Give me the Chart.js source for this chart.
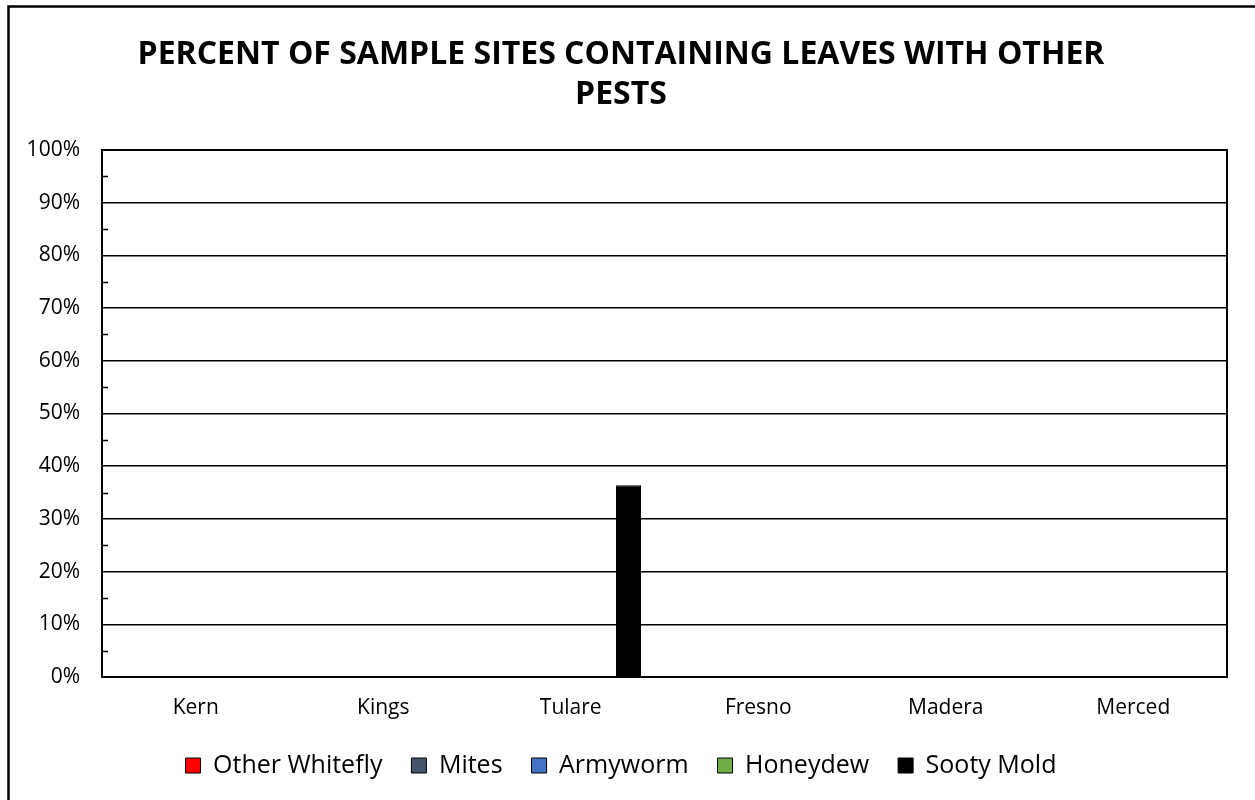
<!DOCTYPE html>
<html>
<head>
<meta charset="utf-8">
<script src="https://cdn.jsdelivr.net/npm/chart.js@4/dist/chart.umd.min.js"></script>
<style>
    html, body { margin: 0; padding: 0; background: #fff; }
    #wrap { width: 1255px; height: 800px; }
</style>
</head>
<body>
<div id="wrap"><canvas id="pestChart" width="1255" height="800"></canvas></div>
<script>
    // categories + series (percent of sites)
    const counties = ['Kern', 'Kings', 'Tulare', 'Fresno', 'Madera', 'Merced'];
    const otherWhitefly = [0, 0, 0, 0, 0, 0];
    const mites = [0, 0, 0, 0, 0, 0];
    const armyworm = [0, 0, 0, 0, 0, 0];
    const honeydew = [0, 0, 0, 0, 0, 0];
    const sootyMold = [0, 0, 36.4, 0, 0, 0];
    const minorTicks = [5, 15, 25, 35, 45, 55, 65, 75, 85, 95];

    const titleLines = ['PERCENT OF SAMPLE SITES CONTAINING LEAVES WITH OTHER', 'PESTS'];
    const fontFamily = '"Open Sans", Lato, sans-serif';

    // page frame + plot border + inward minor ticks
    const framePlugin = {
        id: 'frame',
        beforeDraw(chart) {
            const ctx = chart.ctx;
            ctx.save();
            ctx.fillStyle = '#fff';
            ctx.fillRect(0, 0, chart.width, chart.height);
            ctx.strokeStyle = '#000';
            ctx.lineWidth = 2.5;
            ctx.beginPath();
            ctx.moveTo(8.5, chart.height + 2);
            ctx.lineTo(8.5, 6.5);
            ctx.lineTo(chart.width + 2, 6.5);
            ctx.stroke();
            ctx.restore();
        },
        afterDraw(chart) {
            const ctx = chart.ctx;
            const a = chart.chartArea;
            const y = chart.scales.y;
            ctx.save();
            ctx.strokeStyle = '#000';
            ctx.lineWidth = 2;
            ctx.strokeRect(a.left, a.top, a.right - a.left, a.bottom - a.top);
            ctx.lineWidth = 1.5;
            ctx.beginPath();
            minorTicks.forEach(v => {
                const py = Math.round(y.getPixelForValue(v)) + 0.5;
                ctx.moveTo(a.left, py);
                ctx.lineTo(a.left + 6, py);
            });
            ctx.stroke();
            ctx.restore();
        }
    };

    function series(label, data, color) {
        return {
            label: label,
            data: data,
            backgroundColor: color,
            borderColor: '#000',
            borderWidth: 1,
            categoryPercentage: 0.77,
            barPercentage: 0.865
        };
    }

    new Chart(document.getElementById('pestChart'), {
        type: 'bar',
        data: {
            labels: counties,
            datasets: [
                series('Other Whitefly', otherWhitefly, '#ff0000'),
                series('Mites', mites, '#44546a'),
                series('Armyworm', armyworm, '#4472c4'),
                series('Honeydew', honeydew, '#70ad47'),
                series('Sooty Mold', sootyMold, '#000000')
            ]
        },
        options: {
            responsive: false,
            animation: false,
            layout: { padding: { left: 15, right: 28, top: 0, bottom: 12 } },
            plugins: {
                title: {
                    display: true,
                    text: titleLines,
                    color: '#000',
                    font: { family: fontFamily, size: 32, weight: 'bold', lineHeight: 40 / 32 },
                    padding: { top: 35, bottom: 35 }
                },
                legend: {
                    position: 'bottom',
                    labels: {
                        color: '#000',
                        font: { family: fontFamily, size: 25 },
                        boxWidth: 15,
                        boxHeight: 15,
                        padding: 29
                    }
                },
                tooltip: { enabled: false }
            },
            scales: {
                x: {
                    grid: { display: false, drawTicks: false },
                    border: { display: true, color: '#000', width: 2 },
                    ticks: { color: '#000', font: { family: fontFamily, size: 21 }, padding: 18 },
                    afterFit(scale) { scale.height = 47; }
                },
                y: {
                    min: 0,
                    max: 100,
                    grid: { color: '#000', lineWidth: 1.5, drawTicks: false },
                    border: { display: true, color: '#000', width: 2 },
                    ticks: {
                        stepSize: 10,
                        color: '#000',
                        font: { family: fontFamily, size: 21 },
                        padding: 22,
                        callback: v => v + '%'
                    },
                    afterFit(scale) { scale.width = 87; }
                }
            }
        },
        plugins: [framePlugin]
    });
</script>
</body>
</html>
